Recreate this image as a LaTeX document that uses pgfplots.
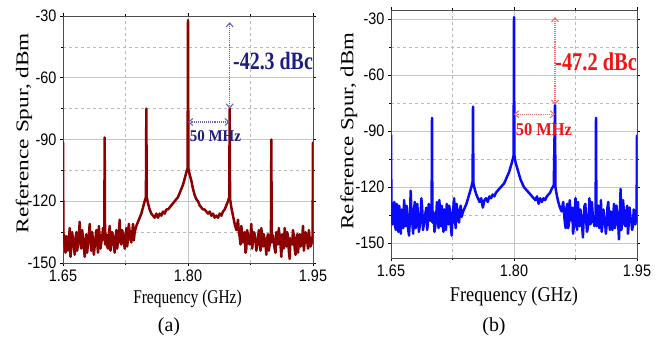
\documentclass[border=0pt]{standalone}
\usepackage{pgfplots}
\pgfplotsset{compat=1.18}
\usepackage{graphicx}
\usepackage{fontspec}
\setmainfont{Liberation Serif}
\newfontfamily\arial{Liberation Sans}
\usetikzlibrary{arrows.meta}
\definecolor{trred}{RGB}{140,0,0}
\definecolor{trblue}{RGB}{10,10,250}
\definecolor{navy}{RGB}{30,30,130}
\definecolor{arrblue}{RGB}{100,100,190}
\definecolor{txtred}{RGB}{240,20,20}
\definecolor{arrred}{RGB}{240,110,110}
\pgfplotsset{
  spec/.style={
    scale only axis,
    anchor=south west,
    xmin=1.65, xmax=1.95,
    xtick={1.65,1.80,1.95}, xticklabels={1.65,1.80,1.95},
    minor xtick={1.725,1.875},
    ytick={-30,-60,-90,-120,-150}, yticklabels={-30,-60,-90,-120,-150},
    minor ytick={-45,-75,-105,-135},
    grid=both,
    major grid style={solid, draw=gray!45, line width=0.6pt},
    minor grid style={dashed, draw=gray!55, line width=0.5pt},
    tick align=outside,
    major tick length=3bp, minor tick length=2bp,
    tick style={black, line width=0.6pt},
    axis line style={draw=gray!60!black, line width=0.9pt},
    tick label style={font=\arial\fontsize{14.5}{14.5}\selectfont, yscale=1.15},
    ylabel style={anchor=center},
    xlabel style={anchor=base},
    clip=true,
  }
}
\pgfplotstableread{
x y
1.650 -91
1.6505 -138
1.651 -136
1.652 -141
1.653 -145
1.654 -137
1.655 -138
1.656 -144
1.657 -140
1.658 -133
1.659 -147
1.660 -142
1.661 -135
1.662 -139
1.663 -141
1.664 -146
1.665 -138
1.666 -135
1.667 -144
1.668 -141
1.669 -137
1.670 -130
1.671 -140
1.672 -143
1.673 -134
1.674 -138
1.675 -141
1.676 -147
1.677 -139
1.678 -136
1.679 -145
1.680 -140
1.681 -137
1.682 -131
1.683 -139
1.684 -144
1.685 -135
1.686 -139
1.687 -146
1.688 -142
1.689 -138
1.690 -134
1.691 -140
1.692 -145
1.693 -132
1.694 -137
1.695 -143
1.696 -140
1.697 -138
1.698 -133
1.6995 -139
1.700 -89
1.7005 -141
1.701 -139
1.702 -136
1.703 -142
1.704 -143
1.705 -137
1.706 -132
1.707 -144
1.708 -140
1.709 -135
1.710 -137
1.711 -141
1.712 -145
1.713 -138
1.714 -134
1.715 -143
1.716 -139
1.717 -136
1.718 -129
1.719 -140
1.720 -141
1.721 -134
1.722 -136
1.723 -139
1.724 -143
1.725 -137
1.726 -133
1.727 -142
1.728 -138
1.729 -131
1.730 -135
1.731 -138
1.732 -140
1.733 -136
1.734 -131
1.735 -139
1.736 -135
1.738 -132
1.740 -130
1.742 -128
1.744 -126
1.746 -123
1.748 -120
1.7495 -118
1.750 -75
1.7505 -118
1.752 -121
1.754 -124
1.756 -126
1.758 -127
1.760 -128
1.762 -126
1.764 -128
1.766 -126
1.768 -127
1.770 -125
1.772 -126
1.774 -124
1.776 -124
1.778 -123
1.780 -122
1.782 -121
1.784 -120
1.786 -119
1.788 -118
1.790 -116
1.792 -114
1.794 -112
1.796 -109
1.798 -106
1.7995 -104
1.800 -32
1.8005 -104
1.802 -107
1.804 -110
1.806 -114
1.808 -117
1.810 -119
1.812 -120
1.814 -122
1.816 -123
1.818 -124
1.820 -124
1.822 -125
1.824 -126
1.826 -125
1.828 -127
1.830 -126
1.832 -128
1.834 -127
1.836 -128
1.838 -126
1.840 -127
1.842 -125
1.844 -124
1.846 -122
1.848 -120
1.8495 -118
1.850 -75
1.8505 -119
1.852 -123
1.854 -127
1.856 -131
1.858 -134
1.860 -129
1.861 -135
1.862 -137
1.863 -141
1.864 -132
1.865 -136
1.866 -140
1.867 -139
1.868 -135
1.869 -145
1.870 -143
1.871 -134
1.872 -137
1.873 -140
1.874 -141
1.875 -137
1.876 -131
1.877 -143
1.878 -139
1.879 -135
1.880 -136
1.881 -139
1.882 -144
1.883 -141
1.884 -138
1.885 -134
1.886 -140
1.887 -144
1.888 -133
1.889 -138
1.890 -142
1.891 -136
1.892 -139
1.893 -141
1.894 -146
1.895 -138
1.896 -136
1.897 -144
1.898 -141
1.8995 -138
1.900 -90
1.9005 -140
1.901 -136
1.902 -137
1.903 -140
1.904 -143
1.905 -145
1.906 -135
1.907 -138
1.908 -141
1.909 -133
1.910 -138
1.911 -141
1.912 -147
1.913 -136
1.914 -139
1.915 -143
1.916 -133
1.917 -139
1.918 -142
1.919 -135
1.920 -137
1.921 -144
1.922 -148
1.923 -138
1.924 -140
1.925 -141
1.926 -134
1.927 -137
1.928 -143
1.929 -146
1.930 -139
1.931 -136
1.932 -145
1.933 -140
1.934 -136
1.935 -142
1.936 -141
1.937 -138
1.938 -132
1.939 -144
1.940 -140
1.941 -135
1.942 -137
1.943 -139
1.944 -143
1.945 -134
1.946 -138
1.947 -142
1.948 -141
1.9495 -137
1.950 -91
}\specA
\pgfplotstableread{
x y
1.650 -92
1.6505 -131
1.651 -137
1.652 -140
1.653 -133
1.654 -128
1.655 -141
1.656 -143
1.657 -129
1.658 -136
1.659 -144
1.660 -130
1.661 -137
1.662 -145
1.663 -132
1.664 -138
1.665 -142
1.666 -127
1.667 -136
1.668 -141
1.669 -130
1.670 -135
1.671 -143
1.672 -146
1.673 -138
1.674 -122
1.675 -134
1.676 -139
1.677 -145
1.678 -133
1.679 -128
1.680 -142
1.681 -139
1.682 -129
1.683 -135
1.684 -144
1.685 -141
1.686 -137
1.687 -126
1.688 -131
1.689 -143
1.690 -140
1.691 -137
1.692 -134
1.693 -131
1.694 -143
1.695 -140
1.696 -129
1.697 -135
1.698 -138
1.6995 -136
1.700 -83
1.7005 -139
1.701 -133
1.702 -134
1.703 -144
1.704 -141
1.705 -137
1.706 -128
1.707 -135
1.708 -142
1.709 -127
1.710 -136
1.711 -141
1.712 -130
1.713 -138
1.714 -144
1.715 -132
1.716 -135
1.717 -143
1.718 -129
1.719 -136
1.720 -140
1.721 -130
1.722 -133
1.723 -141
1.724 -146
1.725 -137
1.726 -131
1.727 -126
1.728 -138
1.729 -142
1.730 -129
1.731 -134
1.732 -137
1.733 -139
1.734 -132
1.735 -130
1.736 -136
1.738 -133
1.740 -131
1.742 -129
1.744 -126
1.746 -123
1.748 -120
1.7495 -117
1.750 -77
1.7505 -118
1.752 -121
1.754 -124
1.756 -126
1.758 -128
1.760 -126
1.762 -131
1.764 -127
1.766 -126
1.768 -128
1.770 -125
1.772 -126
1.774 -124
1.776 -125
1.778 -123
1.780 -122
1.782 -121
1.784 -120
1.786 -119
1.788 -118
1.790 -116
1.792 -114
1.794 -112
1.796 -109
1.798 -106
1.7995 -103
1.800 -29
1.8005 -103
1.802 -107
1.804 -110
1.806 -113
1.808 -116
1.810 -118
1.812 -120
1.814 -121
1.816 -122
1.818 -123
1.820 -124
1.822 -125
1.824 -126
1.826 -127
1.828 -125
1.830 -129
1.832 -126
1.834 -128
1.836 -126
1.838 -127
1.840 -125
1.842 -124
1.844 -123
1.846 -121
1.8485 -119
1.850 -76
1.8505 -120
1.852 -124
1.854 -128
1.856 -131
1.858 -133
1.860 -128
1.861 -134
1.862 -139
1.863 -142
1.864 -131
1.865 -129
1.866 -142
1.867 -140
1.868 -127
1.869 -135
1.870 -138
1.871 -131
1.872 -145
1.873 -141
1.874 -133
1.875 -126
1.876 -139
1.877 -143
1.878 -128
1.879 -137
1.880 -141
1.881 -132
1.882 -136
1.883 -140
1.884 -147
1.885 -137
1.886 -130
1.887 -129
1.888 -138
1.889 -144
1.890 -142
1.891 -136
1.892 -126
1.893 -140
1.894 -139
1.895 -128
1.896 -135
1.897 -137
1.898 -141
1.8995 -137
1.900 -83
1.9005 -138
1.901 -141
1.902 -134
1.903 -130
1.904 -142
1.905 -139
1.906 -127
1.907 -144
1.908 -140
1.909 -132
1.910 -136
1.911 -138
1.912 -145
1.913 -140
1.914 -131
1.915 -128
1.916 -139
1.917 -143
1.918 -133
1.919 -137
1.920 -143
1.921 -135
1.922 -129
1.923 -142
1.924 -140
1.925 -130
1.926 -135
1.927 -139
1.928 -148
1.929 -136
1.930 -121
1.931 -143
1.932 -138
1.933 -127
1.934 -133
1.935 -140
1.936 -141
1.937 -134
1.938 -130
1.939 -145
1.940 -139
1.941 -131
1.942 -136
1.943 -138
1.944 -143
1.945 -141
1.946 -132
1.947 -136
1.948 -140
1.9495 -134
1.950 -92
}\specB
\begin{document}
\begin{tikzpicture}
\useasboundingbox (0,0) rectangle (662bp,340bp);
% ---------- (a) ----------
\begin{axis}[spec,
  at={(63bp,77bp)}, width=250bp, height=247bp,
  ymin=-150, ymax=-30,
  ylabel style={at={(axis description cs:-0.156,0.526)}},
  ylabel={\fontsize{18}{18}\selectfont\scalebox{1.3}[1]{Reference Spur, dBm}},
  xlabel style={at={(axis description cs:0.498,-0.162)}},
  xlabel={\fontsize{15.5}{15.5}\selectfont\scalebox{1}[1.26]{Frequency (GHz)}},
]
\addplot[trred, line width=2.5pt, line join=round] table[x=x, y=y] {\specA};
\draw[arrblue, densely dotted, line width=1.1pt, {Straight Barb[length=4bp,width=7bp]}-{Straight Barb[length=4bp,width=7bp]}]
  (axis cs:1.85,-33) -- (axis cs:1.85,-75);
\draw[arrblue, densely dotted, line width=1.1pt, {Straight Barb[length=4bp,width=7bp]}-{Straight Barb[length=4bp,width=7bp]}]
  (axis cs:1.80,-81.5) -- (axis cs:1.85,-81.5);
\node[anchor=west, inner sep=0pt, text=navy] at (axis cs:1.854,-52)
  {\fontsize{20}{20}\selectfont\bfseries\scalebox{1}[1.25]{-42.3 dBc}};
\node[anchor=west, inner sep=0pt, text=navy] at (axis cs:1.802,-88.5)
  {\fontsize{15}{15}\selectfont\bfseries\scalebox{1}[1.1]{50 MHz}};
\end{axis}
% ---------- (b) ----------
\begin{axis}[spec,
  at={(391bp,82bp)}, width=246bp, height=248bp,
  ymin=-158, ymax=-25.2,
  ylabel style={at={(axis description cs:-0.171,0.512)}},
  ylabel={\fontsize{18.5}{18.5}\selectfont\scalebox{1.24}[1]{Reference Spur, dBm}},
  xlabel style={at={(axis description cs:0.5,-0.177)}},
  xlabel={\fontsize{18.3}{18.3}\selectfont\scalebox{1}[1.15]{Frequency (GHz)}},
]
\addplot[trblue, line width=2.5pt, line join=round] table[x=x, y=y] {\specB};
\draw[arrred, densely dotted, line width=1.1pt, {Straight Barb[length=4bp,width=7bp]}-{Straight Barb[length=4bp,width=7bp]}]
  (axis cs:1.85,-29) -- (axis cs:1.85,-76);
\draw[arrred, densely dotted, line width=1.1pt, {Straight Barb[length=4bp,width=7bp]}-{Straight Barb[length=4bp,width=7bp]}]
  (axis cs:1.80,-81) -- (axis cs:1.85,-81);
\node[anchor=west, inner sep=0pt, text=txtred] at (axis cs:1.850,-53)
  {\fontsize{20.5}{20.5}\selectfont\bfseries\scalebox{1}[1.25]{-47.2 dBc}};
\node[anchor=west, inner sep=0pt, text=txtred] at (axis cs:1.802,-89)
  {\fontsize{16.5}{16.5}\selectfont\bfseries\scalebox{1}[1.1]{50 MHz}};
\end{axis}
\node at (169bp,13bp) {\fontsize{20}{20}\selectfont (a)};
\node at (494bp,13bp) {\fontsize{20}{20}\selectfont (b)};
\end{tikzpicture}
\end{document}
